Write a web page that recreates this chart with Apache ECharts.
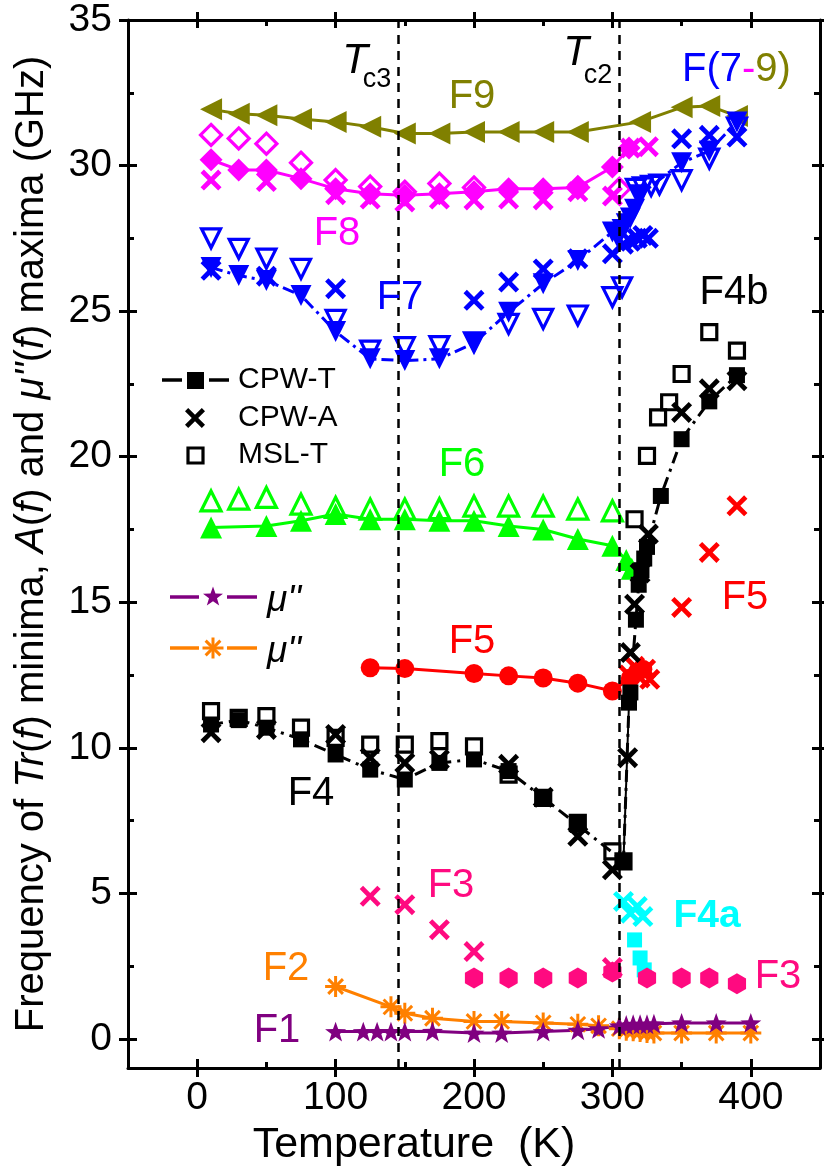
<!DOCTYPE html>
<html>
<head>
<meta charset="utf-8">
<script src="https://cdn.jsdelivr.net/npm/echarts@6/dist/echarts.min.js"></script>
<style>html,body{margin:0;padding:0;background:#fff}#c{width:824px;height:1173px}</style>
</head>
<body>
<div id="c"></div>
<script>
// ---------- tick values ----------
const X_MAJOR = [0, 100, 200, 300, 400];
const X_MINOR = [50, 150, 250, 350];
const Y_MAJOR = [0, 5, 10, 15, 20, 25, 30, 35];
const Y_MINOR = [2.5, 7.5, 12.5, 17.5, 22.5, 27.5, 32.5];
const TC_LINES = [145, 305];

// ---------- data [T (K), f (GHz)] ----------
const F9_T = [[10,31.93],[30,31.78],[50,31.73],[75,31.6],[100,31.5],[125,31.33],[150,31.1],[175,31.1],[200,31.15],[225,31.15],[250,31.15],[275,31.15],[320,31.5],[350,32.0],[370,32.05],[390,31.7]];

const F8_T = [[10,30.2],[30,29.85],[50,29.85],[75,29.55],[100,29.2],[125,29.03],[150,28.98],[175,29.03],[200,29.1],[225,29.2],[250,29.2],[275,29.25],[300,29.95],[312,30.6]];
const F8_A = [[10,29.5],[50,29.45],[100,29.0],[125,28.85],[150,28.75],[175,28.85],[200,28.82],[225,28.85],[250,28.82],[275,29.1],[300,28.95],[313,30.6],[326,30.65]];
const F8_M = [[10,31.05],[30,30.93],[50,30.75],[75,30.1],[100,29.5],[125,29.28],[150,29.1],[175,29.38],[200,29.25],[275,29.25],[305,29.2]];

const F7_T = [[10,26.5],[30,26.22],[50,26.05],[75,25.54],[100,24.3],[125,23.36],[150,23.3],[175,23.36],[200,23.9],[225,24.96],[250,25.94],[275,26.74],[300,27.72],[304,27.5],[307,27.8],[310,28.0],[313,28.2],[316,28.5],[320,29.0],[350,30.1],[370,30.5],[390,31.5]];
const F7_A = [[10,26.4],[50,26.2],[100,25.77],[200,25.37],[225,26.0],[250,26.45],[275,26.8],[300,26.97],[308,27.3],[313,27.4],[318,27.5],[322,27.6],[326,27.5],[350,30.92],[370,31.04],[390,30.98]];
const F7_M = [[10,27.5],[30,27.14],[50,26.8],[75,26.45],[100,24.7],[125,23.64],[150,23.76],[175,23.8],[200,23.93],[225,24.56],[250,24.73],[275,24.85],[300,25.48],[307,25.82],[317,29.2],[322,29.25],[328,29.3],[334,29.35],[350,29.5],[370,30.24],[390,31.3]];

const F6_T = [[10,17.57],[50,17.62],[75,17.8],[100,18.03],[125,17.85],[150,17.85],[175,17.8],[200,17.8],[225,17.62],[250,17.5],[275,17.17],[300,16.94],[310,16.45],[314,16.15]];
const F6_M = [[10,18.48],[30,18.54],[50,18.6],[75,18.37],[100,18.26],[125,18.2],[150,18.2],[175,18.22],[200,18.3],[225,18.3],[250,18.3],[275,18.2],[300,18.14]];

const F5_T = [[125,12.75],[150,12.72],[200,12.55],[225,12.47],[250,12.4],[275,12.22],[300,11.95],[313,12.4],[318,12.6],[322,12.7]];
const F5_A = [[312,12.5],[316,12.8],[320,12.4],[324,12.7],[327,12.35],[350,14.82],[370,16.71],[390,18.31]];

const F4_T = [[10,10.8],[30,10.95],[50,10.69],[75,10.29],[100,9.77],[125,9.25],[150,8.91],[175,9.48],[200,9.6],[225,9.2],[250,8.28],[275,7.35],[308,6.1],[312,11.55],[313,11.9],[317,14.4],[319,15.6],[321,16.1],[323,16.5],[325,16.9],[335,18.65],[350,20.6],[370,21.9],[390,22.8]];
const F4_JUMP = [[308,6.1],[312,11.55]];
const F4_A = [[10,10.52],[50,10.63],[100,10.46],[125,9.66],[150,9.48],[175,9.6],[225,9.43],[250,8.3],[275,6.96],[300,5.81],[311,9.66],[313,13.27],[316,14.93],[320,16.0],[326,17.34],[350,21.52],[370,22.33],[390,22.61]];
const F4_M = [[10,11.26],[30,11.03],[50,11.09],[75,10.69],[100,10.34],[125,10.11],[150,10.11],[175,10.23],[200,10.05],[225,9.08],[250,8.28],[275,7.42],[300,6.44],[308,6.1],[316,17.85],[325,20.03],[333,21.35],[341,21.87],[350,22.84],[370,24.28],[390,23.64]];

const F4a_A = [[308,4.72],[313,4.32],[318,4.55],[322,4.2]];
const F4a_T = [[316,3.4],[320,2.78],[323,2.37]];

const F3_A = [[125,4.9],[150,4.61],[175,3.75],[200,3.0],[300,2.45]];
const F3_T = [[200,2.09],[225,2.09],[250,2.09],[275,2.09],[300,2.3],[325,2.09],[350,2.09],[370,2.09],[390,1.89]];

const F2_MU = [[100,1.8],[140,1.1],[150,0.88],[170,0.71],[200,0.6],[220,0.6],[250,0.55],[275,0.5],[290,0.45],[305,0.35],[310,0.3],[315,0.28],[320,0.25],[325,0.22],[330,0.2],[350,0.2],[375,0.2],[400,0.2]];
const F1_MU = [[100,0.25],[120,0.25],[130,0.25],[140,0.25],[150,0.25],[170,0.26],[200,0.2],[220,0.2],[250,0.25],[275,0.3],[290,0.35],[305,0.45],[310,0.48],[315,0.5],[320,0.5],[325,0.5],[330,0.52],[350,0.55],[375,0.55],[400,0.55]];

// ---------- styling ----------
const FONT = "'Liberation Sans', Arial, sans-serif";
const C = {olive:'#808000', mag:'#ff00ff', blue:'#0000ff', green:'#00ff00', red:'#ff0000', black:'#000000', pink:'#ff0a80', cyan:'#00ffff', orange:'#ff8000', purple:'#800080'};
const SYM_X = 'path://M0,1.6L1.6,0L5,3.4L8.4,0L10,1.6L6.6,5L10,8.4L8.4,10L5,6.6L1.6,10L0,8.4L3.4,5Z';
const SYM_STAR = 'path://M5,0L6.18,3.38L9.76,3.45L6.9,5.62L7.94,9.05L5,7L2.06,9.05L3.1,5.62L0.24,3.45L3.82,3.38Z';
const SYM_AST = 'path://M5,0L5,10M0,5L10,5M1.5,1.5L8.5,8.5M8.5,1.5L1.5,8.5';
const SYM_HEX = 'path://M5,0L9.33,2.5L9.33,7.5L5,10L0.67,7.5L0.67,2.5Z';

function filled(name, data, color, symbol, size, extra) {
  return Object.assign({
    name, type: 'scatter', data, symbol, symbolSize: size, symbolKeepAspect: true,
    itemStyle: {color, opacity: 1}, z: 3
  }, extra || {});
}
function open(name, data, color, symbol, size, extra) {
  return Object.assign({
    name, type: 'scatter', data, symbol, symbolSize: size, symbolKeepAspect: true,
    itemStyle: {color: 'rgba(255,255,255,0)', borderColor: color, borderWidth: 3.2, opacity: 1}, z: 4
  }, extra || {});
}
function withLine(name, data, color, symbol, size, lineType, extra) {
  return Object.assign({
    name, type: 'line', data, symbol, symbolSize: size, symbolKeepAspect: true, showSymbol: true,
    itemStyle: {color, opacity: 1}, lineStyle: {color, width: 3, type: lineType}, z: 3
  }, extra || {});
}

const series = [
  {type: 'scatter', data: [], z: 1,
   markLine: {silent: true, symbol: 'none', label: {show: false}, animation: false,
     lineStyle: {color: '#000', width: 2.5, type: [9, 7]},
     data: TC_LINES.map(v => ({xAxis: v}))}},
  withLine('F9', F9_T, C.olive, 'triangle', 22, 'solid', {symbolRotate: 90}),
  withLine('F8 CPW-T', F8_T, C.mag, 'diamond', 23, 'solid'),
  filled('F8 CPW-A', F8_A, C.mag, SYM_X, 21),
  open('F8 MSL-T', F8_M, C.mag, 'diamond', 21),
  withLine('F7 CPW-T', F7_T, C.blue, 'triangle', 21, [12, 5, 3, 5], {symbolRotate: 180}),
  filled('F7 CPW-A', F7_A, C.blue, SYM_X, 21),
  open('F7 MSL-T', F7_M, C.blue, 'triangle', 19, {symbolRotate: 180}),
  withLine('F6 CPW-T', F6_T, C.green, 'triangle', 22, 'solid'),
  open('F6 MSL-T', F6_M, C.green, 'triangle', 20),
  withLine('F5 CPW-T', F5_T, C.red, 'circle', 19, 'solid'),
  filled('F5 CPW-A', F5_A, C.red, SYM_X, 21),
  {type: 'line', data: F4_JUMP, symbol: 'none', lineStyle: {color: '#000', width: 2}, z: 2},
  withLine('F4 CPW-T', F4_T, C.black, 'rect', 16, [12, 6, 3, 6]),
  filled('F4 CPW-A', F4_A, C.black, SYM_X, 21),
  open('F4 MSL-T', F4_M, C.black, 'rect', 15),
  filled('F4a CPW-A', F4a_A, C.cyan, SYM_X, 21),
  filled('F4a CPW-T', F4a_T, C.cyan, 'rect', 15),
  filled('F3 CPW-A', F3_A, C.pink, SYM_X, 21),
  filled('F3 CPW-T', F3_T, C.pink, SYM_HEX, 21),
  {name: 'F2', type: 'line', data: F2_MU, symbol: SYM_AST, symbolSize: 21, symbolKeepAspect: true, showSymbol: true,
   itemStyle: {color: 'rgba(0,0,0,0)', borderColor: C.orange, borderWidth: 3, opacity: 1},
   lineStyle: {color: C.orange, width: 3}, z: 3},
  withLine('F1', F1_MU, C.purple, SYM_STAR, 21, 'solid')
];

// ---------- axes ----------
const tickStyle = {color: '#000', width: 3};
function xAx(pos, ticks, inside, len, main) {
  return {
    type: 'value', min: -50, max: 450, position: pos, gridIndex: 0,
    splitLine: {show: false},
    axisLine: {show: !!main, onZero: false, lineStyle: {color: '#000', width: 3}},
    axisTick: {show: true, inside, length: len, lineStyle: tickStyle, customValues: ticks},
    axisLabel: main && pos === 'bottom'
      ? {show: true, customValues: X_MAJOR, fontSize: 39, fontFamily: FONT, color: '#000', margin: 11}
      : {show: false},
    name: main && pos === 'bottom' ? 'Temperature  (K)' : '',
    nameLocation: 'middle', nameGap: 56,
    nameTextStyle: {fontSize: 43, fontFamily: FONT, color: '#000', padding: [0, 120, 0, 0]}
  };
}
function yAx(pos, ticks, inside, len, main) {
  return {
    type: 'value', min: -1, max: 35, position: pos, gridIndex: 0,
    splitLine: {show: false},
    axisLine: {show: !!main, onZero: false, lineStyle: {color: '#000', width: 3}},
    axisTick: {show: true, inside, length: len, lineStyle: tickStyle, customValues: ticks},
    axisLabel: main && pos === 'left'
      ? {show: true, customValues: Y_MAJOR, fontSize: 39, fontFamily: FONT, color: '#000', margin: 16}
      : {show: false},
    name: main && pos === 'left'
      ? "Frequency of {i|Tr}({i|f}) minima, {i|A}({i|f}) and {i|μ''}({i|f}) maxima (GHz)" : '',
    nameLocation: 'middle', nameGap: 76,
    nameTextStyle: {fontSize: 40, fontFamily: FONT, color: '#000',
      rich: {i: {fontSize: 40, fontFamily: FONT, fontStyle: 'italic', color: '#000'}}}
  };
}

// ---------- annotations ----------
function txt(x, y, text, color, size, extra) {
  return {type: 'text', x, y, z: 100, silent: true,
    style: Object.assign({text, fill: color, font: size + 'px ' + FONT,
      align: 'center', verticalAlign: 'middle', textAlign: 'center', textVerticalAlign: 'middle'}, extra || {})};
}
function ltxt(x, y, text, color, font) {
  return {type: 'text', x, y, z: 100, silent: true,
    style: {text, fill: color, font, align: 'left', verticalAlign: 'middle', textAlign: 'left', textVerticalAlign: 'middle'}};
}
// legend glyph outlines in a 10x10 box
const G_X = [[0,1.6],[1.6,0],[5,3.4],[8.4,0],[10,1.6],[6.6,5],[10,8.4],[8.4,10],[5,6.6],[1.6,10],[0,8.4],[3.4,5]];
const G_STAR = [[5,0],[6.18,3.38],[9.76,3.45],[6.9,5.62],[7.94,9.05],[5,7],[2.06,9.05],[3.1,5.62],[0.24,3.45],[3.82,3.38]];
const G_AST = [[[5,0],[5,10]],[[0,5],[10,5]],[[1.5,1.5],[8.5,8.5]],[[8.5,1.5],[1.5,8.5]]];
function gpoly(cx, cy, size, pts, style) {
  return {type: 'polygon', z: 101, silent: true,
    shape: {points: pts.map(p => [cx + (p[0] - 5) * size / 10, cy + (p[1] - 5) * size / 10])}, style};
}
function gast(cx, cy, size, color) {
  return G_AST.map(s => ({type: 'line', z: 101, silent: true,
    shape: {x1: cx + (s[0][0] - 5) * size / 10, y1: cy + (s[0][1] - 5) * size / 10,
            x2: cx + (s[1][0] - 5) * size / 10, y2: cy + (s[1][1] - 5) * size / 10},
    style: {stroke: color, lineWidth: 3}}));
}
function gline(x1, x2, y, color) {
  return {type: 'line', z: 100, silent: true, shape: {x1, y1: y, x2, y2: y}, style: {stroke: color, lineWidth: 3.5}};
}

const graphic = [
  // Tc labels
  txt(355, 61, 'T', '#000', 42, {font: 'italic 42px ' + FONT}),
  txt(377, 80, 'c3', '#000', 27),
  txt(576, 53, 'T', '#000', 42, {font: 'italic 42px ' + FONT}),
  txt(598, 76, 'c2', '#000', 27),
  // band labels
  {type: 'text', x: 682, y: 70, z: 100, silent: true,
   style: {text: '{b|F(7}{m|-}{o|9)}', font: '40px ' + FONT, align: 'left', verticalAlign: 'middle',
     textAlign: 'left', textVerticalAlign: 'middle',
     rich: {b: {fill: C.blue, color: C.blue, font: '40px ' + FONT},
            m: {fill: C.mag, color: C.mag, font: '40px ' + FONT},
            o: {fill: C.olive, color: C.olive, font: '40px ' + FONT}}}},
  txt(472, 97, 'F9', C.olive, 40),
  txt(337, 234, 'F8', C.mag, 40),
  txt(400, 298, 'F7', C.blue, 40),
  txt(734, 293, 'F4b', '#000', 40),
  txt(462, 465, 'F6', C.green, 40),
  txt(472, 642, 'F5', C.red, 40),
  txt(745, 598, 'F5', C.red, 40),
  txt(311, 794, 'F4', '#000', 40),
  txt(451, 886, 'F3', C.pink, 40),
  txt(707, 916, 'F4a', C.cyan, 40, {font: 'bold 39px ' + FONT}),
  txt(778, 977, 'F3', C.pink, 40),
  txt(286, 969, 'F2', C.orange, 40),
  txt(277, 1031, 'F1', C.purple, 40),
  // legend
  gline(162, 182, 380, '#000'),
  gline(209, 229, 380, '#000'),
  {type: 'rect', z: 101, silent: true, shape: {x: 187, y: 372, width: 17, height: 17}, style: {fill: '#000'}},
  ltxt(238, 380, 'CPW-T', '#000', '30px ' + FONT),
  gpoly(195, 418, 20, G_X, {fill: '#000'}),
  ltxt(238, 418, 'CPW-A', '#000', '30px ' + FONT),
  {type: 'rect', z: 101, silent: true, shape: {x: 188, y: 448, width: 15, height: 15}, style: {fill: 'none', stroke: '#000', lineWidth: 3.2}},
  ltxt(238, 455, 'MSL-T', '#000', '30px ' + FONT),
  gline(170, 199, 597, C.purple),
  gline(227, 257, 597, C.purple),
  gpoly(213, 597, 21, G_STAR, {fill: C.purple}),
  ltxt(267, 601, "μ''", '#000', 'italic 37px ' + FONT),
  gline(170, 199, 648, C.orange),
  gline(227, 257, 648, C.orange)
].concat(gast(213, 648, 21, C.orange)).concat([
  ltxt(267, 652, "μ''", '#000', 'italic 37px ' + FONT)
]);

const chart = echarts.init(document.getElementById('c'), null, {renderer: 'canvas'});
chart.setOption({
  backgroundColor: '#ffffff',
  animation: false,
  grid: {left: 128, right: 4, top: 20, bottom: 105, containLabel: false},
  xAxis: [
    xAx('bottom', X_MAJOR, false, 9, true),
    xAx('bottom', X_MAJOR, true, 9, false),
    xAx('bottom', X_MINOR, true, 6, false),
    xAx('top', X_MAJOR, false, 8, true),
    xAx('top', X_MAJOR, true, 8, false),
    xAx('top', X_MINOR, true, 6, false)
  ],
  yAxis: [
    yAx('left', Y_MAJOR, false, 9, true),
    yAx('left', Y_MAJOR, true, 9, false),
    yAx('left', Y_MINOR, true, 6, false),
    yAx('right', Y_MAJOR, false, 8, true),
    yAx('right', Y_MAJOR, true, 8, false),
    yAx('right', Y_MINOR, true, 6, false)
  ],
  series,
  graphic
});
</script>
</body>
</html>
